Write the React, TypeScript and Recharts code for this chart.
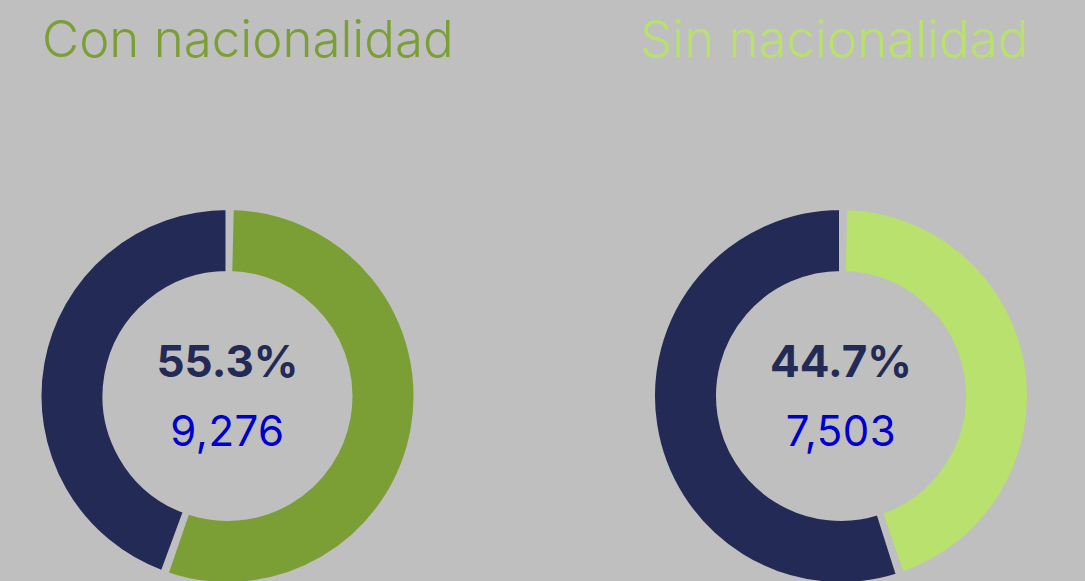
import { Cell, Pie, PieChart } from "recharts";

const groups = ["Con nacionalidad", "Sin nacionalidad"];
const shares = [55.3, 44.7];
const counts = [9276, 7503];
const accents = ["#7b9f35", "#b8e16d"];

const BG = "#bfbfbf";
const NAVY = "#232a55";
const WIDTH = 1085;
const HEIGHT = 581;
const CENTERS = [227.5, 841];
const CY = 396;

export default function App() {
  return (
    <div
      style={{
        position: "absolute",
        left: 0,
        top: 0,
        width: WIDTH,
        height: HEIGHT,
        background: BG,
        overflow: "hidden",
      }}
    >
      <PieChart
        width={WIDTH}
        height={HEIGHT}
        margin={{ top: 0, right: 0, bottom: 0, left: 0 }}
        style={{ position: "absolute", left: 0, top: 0 }}
      >
        {groups.map((g, i) => (
          <Pie
            key={g}
            data={[
              { name: "Resto", value: +(100 - shares[i]).toFixed(1) },
              { name: g, value: shares[i] },
            ]}
            dataKey="value"
            cx={CENTERS[i]}
            cy={CY}
            innerRadius={123}
            outerRadius={188}
            startAngle={90}
            endAngle={450}
            paddingAngle={1.3}
            stroke={BG}
            strokeWidth={4}
            isAnimationActive={false}
          >
            <Cell fill={NAVY} />
            <Cell fill={accents[i]} />
          </Pie>
        ))}
      </PieChart>
      {groups.map((g, i) => (
        <div
          key={g}
          style={{
            position: "absolute",
            left: i === 0 ? 42 : 640,
            top: 8,
            fontFamily: "Inter",
            fontWeight: 300,
            fontSize: 51,
            color: accents[i],
            whiteSpace: "nowrap",
            lineHeight: "62px",
          }}
        >
          {g}
        </div>
      ))}
      {groups.map((g, i) => (
        <div
          key={g + "-centro"}
          style={{
            position: "absolute",
            left: CENTERS[i] - 120,
            width: 240,
            top: CY - 60,
            textAlign: "center",
            fontFamily: "Inter",
            whiteSpace: "nowrap",
          }}
        >
          <div style={{ color: NAVY, fontWeight: 700, fontSize: 44, lineHeight: "50px" }}>
            {shares[i].toFixed(1)}%
          </div>
          <div
            style={{
              color: "#0000cc",
              fontWeight: 400,
              fontSize: 42,
              lineHeight: "50px",
              marginTop: 20,
              letterSpacing: 0.5,
            }}
          >
            {counts[i].toLocaleString("en-US")}
          </div>
        </div>
      ))}
    </div>
  );
}
